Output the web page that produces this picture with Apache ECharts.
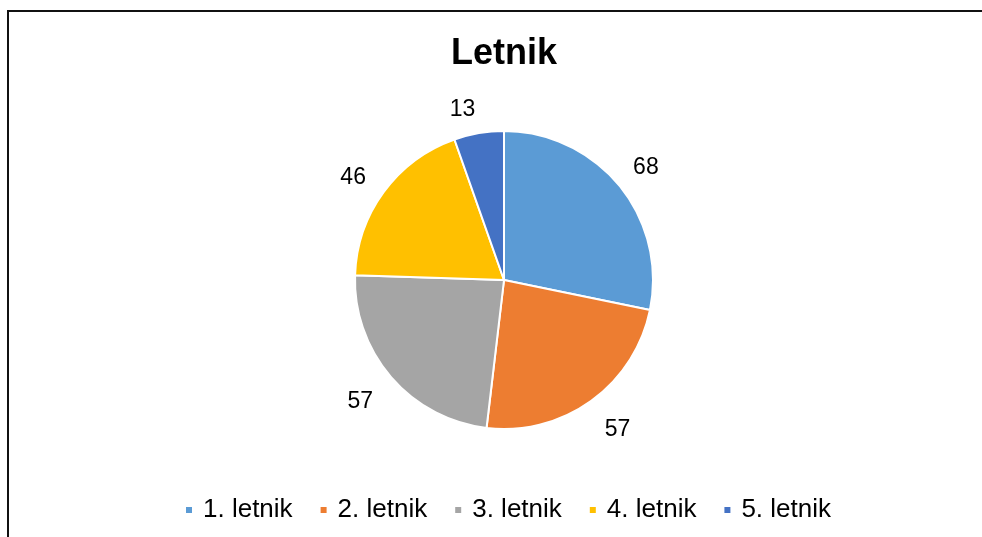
<!DOCTYPE html>
<html>
<head>
<meta charset="utf-8">
<script src="https://cdn.jsdelivr.net/npm/echarts@6/dist/echarts.min.js"></script>
<style>
  html, body { margin: 0; padding: 0; background: #fff; }
  #frame { position: absolute; left: 7px; top: 10px; width: 1000px; height: 600px; border-left: 2px solid #111; border-top: 2px solid #111; }
  #chart { position: absolute; left: 0; top: 0; width: 982px; height: 537px; }
</style>
</head>
<body>
<div id="frame"></div>
<div id="chart"></div>
<script>
const titleText = 'Letnik';
const categories = ['1. letnik', '2. letnik', '3. letnik', '4. letnik', '5. letnik'];
const values = [68, 57, 57, 46, 13];

const colors = ['#5B9BD5', '#ED7D31', '#A5A5A5', '#FFC000', '#4472C4'];
const labelNudge = [[-3, 6], [4, -2], [-2, 0], [0, 8], [-10, 14]];
const font = '"Liberation Sans", Arial, sans-serif';

const chart = echarts.init(document.getElementById('chart'), null, { renderer: 'canvas' });

const pieData = categories.map((c, i) => ({ name: c, value: values[i] }));
const labelData = categories.map((c, i) => ({
  name: c, value: values[i],
  label: { offset: labelNudge[i] }
}));

chart.setOption({
  animation: false,
  color: colors,
  title: {
    text: titleText,
    left: 451,
    top: 36,
    padding: 0,
    textStyle: { fontFamily: font, fontSize: 36, fontWeight: 'bold', color: '#000' }
  },
  legend: {
    data: categories,
    left: 184,
    top: 497,
    padding: 0,
    icon: 'rect',
    itemWidth: 8,
    itemHeight: 8,
    itemGap: 26,
    selectedMode: false,
    textStyle: { fontFamily: font, fontSize: 26, color: '#000', padding: [0, 0, 0, 5] }
  },
  series: [
    {
      type: 'pie',
      center: [504, 280],
      radius: [0, 149],
      startAngle: 90,
      clockwise: true,
      silent: true,
      data: pieData,
      label: { show: false },
      labelLine: { show: false },
      itemStyle: { borderColor: '#fff', borderWidth: 2 },
      emphasis: { disabled: true }
    },
    {
      type: 'pie',
      center: [504, 280],
      radius: [174, 194],
      startAngle: 90,
      clockwise: true,
      silent: true,
      avoidLabelOverlap: false,
      data: labelData,
      itemStyle: { color: 'rgba(0,0,0,0)', borderWidth: 0 },
      label: {
        show: true,
        position: 'inside',
        formatter: '{c}',
        fontFamily: font,
        fontSize: 23,
        color: '#000'
      },
      labelLine: { show: false },
      emphasis: { disabled: true }
    }
  ]
});
</script>
</body>
</html>
